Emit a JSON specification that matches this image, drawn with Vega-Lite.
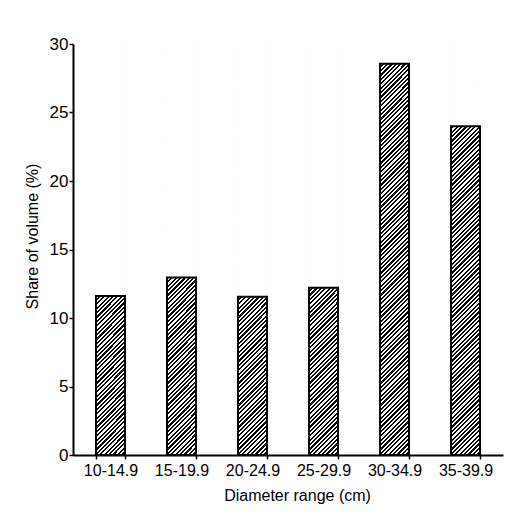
{
  "$schema": "https://vega.github.io/schema/vega-lite/v6.json",
  "width": 430,
  "height": 411,
  "autosize": "none",
  "padding": {"left": 73, "top": 44, "right": 17, "bottom": 65},
  "background": "white",
  "data": {
    "values": [
      {"range": "10-14.9", "share": 11.6},
      {"range": "15-19.9", "share": 12.95},
      {"range": "20-24.9", "share": 11.55},
      {"range": "25-29.9", "share": 12.2},
      {"range": "30-34.9", "share": 28.55},
      {"range": "35-39.9", "share": 24.0}
    ]
  },
  "encoding": {
    "x": {
      "field": "range",
      "type": "nominal",
      "sort": null,
      "title": "Diameter range (cm)",
      "scale": {"paddingInner": 0.592, "paddingOuter": 0.324},
      "axis": {
        "labelAngle": 0,
        "tickBand": "extent",
        "tickSize": 4,
        "labelPadding": 3,
        "titleX": 224,
        "titleY": 45,
        "titleBaseline": "alphabetic"
      }
    }
  },
  "layer": [
    {
      "mark": {
        "type": "bar",
        "strokeWidth": 0,
        "fill": {
          "gradient": "linear",
          "x1": 0, "y1": 0, "x2": 0.07517, "y2": 1.0653,
          "stops": [
            {"offset":0,"color":"#000"},{"offset":0.005,"color":"#000"},{"offset":0.005,"color":"#fff"},{"offset":0.01,"color":"#fff"},
            {"offset":0.01,"color":"#000"},{"offset":0.015,"color":"#000"},{"offset":0.015,"color":"#fff"},{"offset":0.02,"color":"#fff"},
            {"offset":0.02,"color":"#000"},{"offset":0.025,"color":"#000"},{"offset":0.025,"color":"#fff"},{"offset":0.03,"color":"#fff"},
            {"offset":0.03,"color":"#000"},{"offset":0.035,"color":"#000"},{"offset":0.035,"color":"#fff"},{"offset":0.04,"color":"#fff"},
            {"offset":0.04,"color":"#000"},{"offset":0.045,"color":"#000"},{"offset":0.045,"color":"#fff"},{"offset":0.05,"color":"#fff"},
            {"offset":0.05,"color":"#000"},{"offset":0.055,"color":"#000"},{"offset":0.055,"color":"#fff"},{"offset":0.06,"color":"#fff"},
            {"offset":0.06,"color":"#000"},{"offset":0.065,"color":"#000"},{"offset":0.065,"color":"#fff"},{"offset":0.07,"color":"#fff"},
            {"offset":0.07,"color":"#000"},{"offset":0.075,"color":"#000"},{"offset":0.075,"color":"#fff"},{"offset":0.08,"color":"#fff"},
            {"offset":0.08,"color":"#000"},{"offset":0.085,"color":"#000"},{"offset":0.085,"color":"#fff"},{"offset":0.09,"color":"#fff"},
            {"offset":0.09,"color":"#000"},{"offset":0.095,"color":"#000"},{"offset":0.095,"color":"#fff"},{"offset":0.1,"color":"#fff"},
            {"offset":0.1,"color":"#000"},{"offset":0.105,"color":"#000"},{"offset":0.105,"color":"#fff"},{"offset":0.11,"color":"#fff"},
            {"offset":0.11,"color":"#000"},{"offset":0.115,"color":"#000"},{"offset":0.115,"color":"#fff"},{"offset":0.12,"color":"#fff"},
            {"offset":0.12,"color":"#000"},{"offset":0.125,"color":"#000"},{"offset":0.125,"color":"#fff"},{"offset":0.13,"color":"#fff"},
            {"offset":0.13,"color":"#000"},{"offset":0.135,"color":"#000"},{"offset":0.135,"color":"#fff"},{"offset":0.14,"color":"#fff"},
            {"offset":0.14,"color":"#000"},{"offset":0.145,"color":"#000"},{"offset":0.145,"color":"#fff"},{"offset":0.15,"color":"#fff"},
            {"offset":0.15,"color":"#000"},{"offset":0.155,"color":"#000"},{"offset":0.155,"color":"#fff"},{"offset":0.16,"color":"#fff"},
            {"offset":0.16,"color":"#000"},{"offset":0.165,"color":"#000"},{"offset":0.165,"color":"#fff"},{"offset":0.17,"color":"#fff"},
            {"offset":0.17,"color":"#000"},{"offset":0.175,"color":"#000"},{"offset":0.175,"color":"#fff"},{"offset":0.18,"color":"#fff"},
            {"offset":0.18,"color":"#000"},{"offset":0.185,"color":"#000"},{"offset":0.185,"color":"#fff"},{"offset":0.19,"color":"#fff"},
            {"offset":0.19,"color":"#000"},{"offset":0.195,"color":"#000"},{"offset":0.195,"color":"#fff"},{"offset":0.2,"color":"#fff"},
            {"offset":0.2,"color":"#000"},{"offset":0.205,"color":"#000"},{"offset":0.205,"color":"#fff"},{"offset":0.21,"color":"#fff"},
            {"offset":0.21,"color":"#000"},{"offset":0.215,"color":"#000"},{"offset":0.215,"color":"#fff"},{"offset":0.22,"color":"#fff"},
            {"offset":0.22,"color":"#000"},{"offset":0.225,"color":"#000"},{"offset":0.225,"color":"#fff"},{"offset":0.23,"color":"#fff"},
            {"offset":0.23,"color":"#000"},{"offset":0.235,"color":"#000"},{"offset":0.235,"color":"#fff"},{"offset":0.24,"color":"#fff"},
            {"offset":0.24,"color":"#000"},{"offset":0.245,"color":"#000"},{"offset":0.245,"color":"#fff"},{"offset":0.25,"color":"#fff"},
            {"offset":0.25,"color":"#000"},{"offset":0.255,"color":"#000"},{"offset":0.255,"color":"#fff"},{"offset":0.26,"color":"#fff"},
            {"offset":0.26,"color":"#000"},{"offset":0.265,"color":"#000"},{"offset":0.265,"color":"#fff"},{"offset":0.27,"color":"#fff"},
            {"offset":0.27,"color":"#000"},{"offset":0.275,"color":"#000"},{"offset":0.275,"color":"#fff"},{"offset":0.28,"color":"#fff"},
            {"offset":0.28,"color":"#000"},{"offset":0.285,"color":"#000"},{"offset":0.285,"color":"#fff"},{"offset":0.29,"color":"#fff"},
            {"offset":0.29,"color":"#000"},{"offset":0.295,"color":"#000"},{"offset":0.295,"color":"#fff"},{"offset":0.3,"color":"#fff"},
            {"offset":0.3,"color":"#000"},{"offset":0.305,"color":"#000"},{"offset":0.305,"color":"#fff"},{"offset":0.31,"color":"#fff"},
            {"offset":0.31,"color":"#000"},{"offset":0.315,"color":"#000"},{"offset":0.315,"color":"#fff"},{"offset":0.32,"color":"#fff"},
            {"offset":0.32,"color":"#000"},{"offset":0.325,"color":"#000"},{"offset":0.325,"color":"#fff"},{"offset":0.33,"color":"#fff"},
            {"offset":0.33,"color":"#000"},{"offset":0.335,"color":"#000"},{"offset":0.335,"color":"#fff"},{"offset":0.34,"color":"#fff"},
            {"offset":0.34,"color":"#000"},{"offset":0.345,"color":"#000"},{"offset":0.345,"color":"#fff"},{"offset":0.35,"color":"#fff"},
            {"offset":0.35,"color":"#000"},{"offset":0.355,"color":"#000"},{"offset":0.355,"color":"#fff"},{"offset":0.36,"color":"#fff"},
            {"offset":0.36,"color":"#000"},{"offset":0.365,"color":"#000"},{"offset":0.365,"color":"#fff"},{"offset":0.37,"color":"#fff"},
            {"offset":0.37,"color":"#000"},{"offset":0.375,"color":"#000"},{"offset":0.375,"color":"#fff"},{"offset":0.38,"color":"#fff"},
            {"offset":0.38,"color":"#000"},{"offset":0.385,"color":"#000"},{"offset":0.385,"color":"#fff"},{"offset":0.39,"color":"#fff"},
            {"offset":0.39,"color":"#000"},{"offset":0.395,"color":"#000"},{"offset":0.395,"color":"#fff"},{"offset":0.4,"color":"#fff"},
            {"offset":0.4,"color":"#000"},{"offset":0.405,"color":"#000"},{"offset":0.405,"color":"#fff"},{"offset":0.41,"color":"#fff"},
            {"offset":0.41,"color":"#000"},{"offset":0.415,"color":"#000"},{"offset":0.415,"color":"#fff"},{"offset":0.42,"color":"#fff"},
            {"offset":0.42,"color":"#000"},{"offset":0.425,"color":"#000"},{"offset":0.425,"color":"#fff"},{"offset":0.43,"color":"#fff"},
            {"offset":0.43,"color":"#000"},{"offset":0.435,"color":"#000"},{"offset":0.435,"color":"#fff"},{"offset":0.44,"color":"#fff"},
            {"offset":0.44,"color":"#000"},{"offset":0.445,"color":"#000"},{"offset":0.445,"color":"#fff"},{"offset":0.45,"color":"#fff"},
            {"offset":0.45,"color":"#000"},{"offset":0.455,"color":"#000"},{"offset":0.455,"color":"#fff"},{"offset":0.46,"color":"#fff"},
            {"offset":0.46,"color":"#000"},{"offset":0.465,"color":"#000"},{"offset":0.465,"color":"#fff"},{"offset":0.47,"color":"#fff"},
            {"offset":0.47,"color":"#000"},{"offset":0.475,"color":"#000"},{"offset":0.475,"color":"#fff"},{"offset":0.48,"color":"#fff"},
            {"offset":0.48,"color":"#000"},{"offset":0.485,"color":"#000"},{"offset":0.485,"color":"#fff"},{"offset":0.49,"color":"#fff"},
            {"offset":0.49,"color":"#000"},{"offset":0.495,"color":"#000"},{"offset":0.495,"color":"#fff"},{"offset":0.5,"color":"#fff"},
            {"offset":0.5,"color":"#000"},{"offset":0.505,"color":"#000"},{"offset":0.505,"color":"#fff"},{"offset":0.51,"color":"#fff"},
            {"offset":0.51,"color":"#000"},{"offset":0.515,"color":"#000"},{"offset":0.515,"color":"#fff"},{"offset":0.52,"color":"#fff"},
            {"offset":0.52,"color":"#000"},{"offset":0.525,"color":"#000"},{"offset":0.525,"color":"#fff"},{"offset":0.53,"color":"#fff"},
            {"offset":0.53,"color":"#000"},{"offset":0.535,"color":"#000"},{"offset":0.535,"color":"#fff"},{"offset":0.54,"color":"#fff"},
            {"offset":0.54,"color":"#000"},{"offset":0.545,"color":"#000"},{"offset":0.545,"color":"#fff"},{"offset":0.55,"color":"#fff"},
            {"offset":0.55,"color":"#000"},{"offset":0.555,"color":"#000"},{"offset":0.555,"color":"#fff"},{"offset":0.56,"color":"#fff"},
            {"offset":0.56,"color":"#000"},{"offset":0.565,"color":"#000"},{"offset":0.565,"color":"#fff"},{"offset":0.57,"color":"#fff"},
            {"offset":0.57,"color":"#000"},{"offset":0.575,"color":"#000"},{"offset":0.575,"color":"#fff"},{"offset":0.58,"color":"#fff"},
            {"offset":0.58,"color":"#000"},{"offset":0.585,"color":"#000"},{"offset":0.585,"color":"#fff"},{"offset":0.59,"color":"#fff"},
            {"offset":0.59,"color":"#000"},{"offset":0.595,"color":"#000"},{"offset":0.595,"color":"#fff"},{"offset":0.6,"color":"#fff"},
            {"offset":0.6,"color":"#000"},{"offset":0.605,"color":"#000"},{"offset":0.605,"color":"#fff"},{"offset":0.61,"color":"#fff"},
            {"offset":0.61,"color":"#000"},{"offset":0.615,"color":"#000"},{"offset":0.615,"color":"#fff"},{"offset":0.62,"color":"#fff"},
            {"offset":0.62,"color":"#000"},{"offset":0.625,"color":"#000"},{"offset":0.625,"color":"#fff"},{"offset":0.63,"color":"#fff"},
            {"offset":0.63,"color":"#000"},{"offset":0.635,"color":"#000"},{"offset":0.635,"color":"#fff"},{"offset":0.64,"color":"#fff"},
            {"offset":0.64,"color":"#000"},{"offset":0.645,"color":"#000"},{"offset":0.645,"color":"#fff"},{"offset":0.65,"color":"#fff"},
            {"offset":0.65,"color":"#000"},{"offset":0.655,"color":"#000"},{"offset":0.655,"color":"#fff"},{"offset":0.66,"color":"#fff"},
            {"offset":0.66,"color":"#000"},{"offset":0.665,"color":"#000"},{"offset":0.665,"color":"#fff"},{"offset":0.67,"color":"#fff"},
            {"offset":0.67,"color":"#000"},{"offset":0.675,"color":"#000"},{"offset":0.675,"color":"#fff"},{"offset":0.68,"color":"#fff"},
            {"offset":0.68,"color":"#000"},{"offset":0.685,"color":"#000"},{"offset":0.685,"color":"#fff"},{"offset":0.69,"color":"#fff"},
            {"offset":0.69,"color":"#000"},{"offset":0.695,"color":"#000"},{"offset":0.695,"color":"#fff"},{"offset":0.7,"color":"#fff"},
            {"offset":0.7,"color":"#000"},{"offset":0.705,"color":"#000"},{"offset":0.705,"color":"#fff"},{"offset":0.71,"color":"#fff"},
            {"offset":0.71,"color":"#000"},{"offset":0.715,"color":"#000"},{"offset":0.715,"color":"#fff"},{"offset":0.72,"color":"#fff"},
            {"offset":0.72,"color":"#000"},{"offset":0.725,"color":"#000"},{"offset":0.725,"color":"#fff"},{"offset":0.73,"color":"#fff"},
            {"offset":0.73,"color":"#000"},{"offset":0.735,"color":"#000"},{"offset":0.735,"color":"#fff"},{"offset":0.74,"color":"#fff"},
            {"offset":0.74,"color":"#000"},{"offset":0.745,"color":"#000"},{"offset":0.745,"color":"#fff"},{"offset":0.75,"color":"#fff"},
            {"offset":0.75,"color":"#000"},{"offset":0.755,"color":"#000"},{"offset":0.755,"color":"#fff"},{"offset":0.76,"color":"#fff"},
            {"offset":0.76,"color":"#000"},{"offset":0.765,"color":"#000"},{"offset":0.765,"color":"#fff"},{"offset":0.77,"color":"#fff"},
            {"offset":0.77,"color":"#000"},{"offset":0.775,"color":"#000"},{"offset":0.775,"color":"#fff"},{"offset":0.78,"color":"#fff"},
            {"offset":0.78,"color":"#000"},{"offset":0.785,"color":"#000"},{"offset":0.785,"color":"#fff"},{"offset":0.79,"color":"#fff"},
            {"offset":0.79,"color":"#000"},{"offset":0.795,"color":"#000"},{"offset":0.795,"color":"#fff"},{"offset":0.8,"color":"#fff"},
            {"offset":0.8,"color":"#000"},{"offset":0.805,"color":"#000"},{"offset":0.805,"color":"#fff"},{"offset":0.81,"color":"#fff"},
            {"offset":0.81,"color":"#000"},{"offset":0.815,"color":"#000"},{"offset":0.815,"color":"#fff"},{"offset":0.82,"color":"#fff"},
            {"offset":0.82,"color":"#000"},{"offset":0.825,"color":"#000"},{"offset":0.825,"color":"#fff"},{"offset":0.83,"color":"#fff"},
            {"offset":0.83,"color":"#000"},{"offset":0.835,"color":"#000"},{"offset":0.835,"color":"#fff"},{"offset":0.84,"color":"#fff"},
            {"offset":0.84,"color":"#000"},{"offset":0.845,"color":"#000"},{"offset":0.845,"color":"#fff"},{"offset":0.85,"color":"#fff"},
            {"offset":0.85,"color":"#000"},{"offset":0.855,"color":"#000"},{"offset":0.855,"color":"#fff"},{"offset":0.86,"color":"#fff"},
            {"offset":0.86,"color":"#000"},{"offset":0.865,"color":"#000"},{"offset":0.865,"color":"#fff"},{"offset":0.87,"color":"#fff"},
            {"offset":0.87,"color":"#000"},{"offset":0.875,"color":"#000"},{"offset":0.875,"color":"#fff"},{"offset":0.88,"color":"#fff"},
            {"offset":0.88,"color":"#000"},{"offset":0.885,"color":"#000"},{"offset":0.885,"color":"#fff"},{"offset":0.89,"color":"#fff"},
            {"offset":0.89,"color":"#000"},{"offset":0.895,"color":"#000"},{"offset":0.895,"color":"#fff"},{"offset":0.9,"color":"#fff"},
            {"offset":0.9,"color":"#000"},{"offset":0.905,"color":"#000"},{"offset":0.905,"color":"#fff"},{"offset":0.91,"color":"#fff"},
            {"offset":0.91,"color":"#000"},{"offset":0.915,"color":"#000"},{"offset":0.915,"color":"#fff"},{"offset":0.92,"color":"#fff"},
            {"offset":0.92,"color":"#000"},{"offset":0.925,"color":"#000"},{"offset":0.925,"color":"#fff"},{"offset":0.93,"color":"#fff"},
            {"offset":0.93,"color":"#000"},{"offset":0.935,"color":"#000"},{"offset":0.935,"color":"#fff"},{"offset":0.94,"color":"#fff"},
            {"offset":0.94,"color":"#000"},{"offset":0.945,"color":"#000"},{"offset":0.945,"color":"#fff"},{"offset":0.95,"color":"#fff"},
            {"offset":0.95,"color":"#000"},{"offset":0.955,"color":"#000"},{"offset":0.955,"color":"#fff"},{"offset":0.96,"color":"#fff"},
            {"offset":0.96,"color":"#000"},{"offset":0.965,"color":"#000"},{"offset":0.965,"color":"#fff"},{"offset":0.97,"color":"#fff"},
            {"offset":0.97,"color":"#000"},{"offset":0.975,"color":"#000"},{"offset":0.975,"color":"#fff"},{"offset":0.98,"color":"#fff"},
            {"offset":0.98,"color":"#000"},{"offset":0.985,"color":"#000"},{"offset":0.985,"color":"#fff"},{"offset":0.99,"color":"#fff"},
            {"offset":0.99,"color":"#000"},{"offset":0.995,"color":"#000"},{"offset":0.995,"color":"#fff"},{"offset":1,"color":"#fff"}
          ]
        }
      },
      "encoding": {
        "y": {
          "datum": 0,
          "type": "quantitative",
          "title": "Share of volume (%)",
          "scale": {"domain": [0, 30], "nice": false},
          "axis": {
            "values": [0, 5, 10, 15, 20, 25, 30],
            "tickSize": 4,
            "labelPadding": 1,
            "titleAngle": 270,
            "titleBaseline": "alphabetic",
            "titleX": -36,
            "titleY": 192
          }
        },
        "y2": {"datum": 30}
      }
    },
    {
      "mark": {"type": "bar", "fill": "white", "strokeWidth": 0},
      "encoding": {
        "y": {"field": "share", "type": "quantitative", "title": "Share of volume (%)"},
        "y2": {"datum": 30}
      }
    },
    {
      "mark": {"type": "bar", "fill": null, "fillOpacity": 0, "stroke": "black", "strokeWidth": 2},
      "encoding": {
        "y": {"field": "share", "type": "quantitative", "title": "Share of volume (%)"}
      }
    }
  ],
  "config": {
    "view": {"stroke": null},
    "axis": {
      "grid": false,
      "domainColor": "black",
      "domainWidth": 2,
      "tickColor": "black",
      "tickWidth": 1.5,
      "labelColor": "black",
      "titleColor": "black",
      "labelFont": "Liberation Sans",
      "titleFont": "Liberation Sans",
      "titleFontWeight": "normal"
    },
    "axisX": {"labelFontSize": 16, "titleFontSize": 16},
    "axisY": {"labelFontSize": 17, "titleFontSize": 16}
  }
}
